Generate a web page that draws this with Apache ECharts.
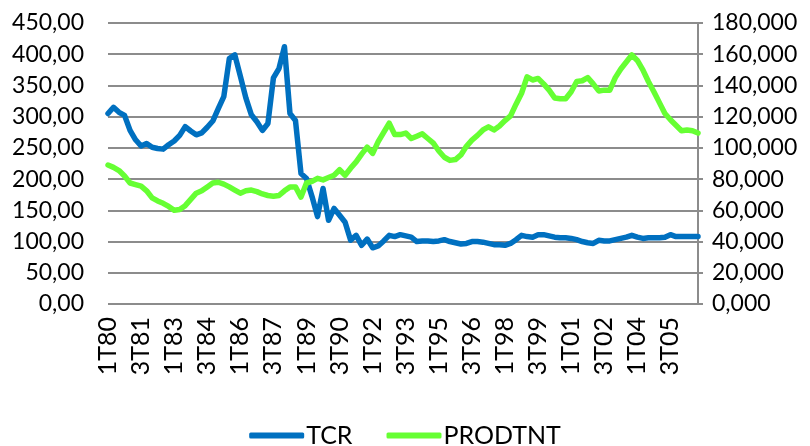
<!DOCTYPE html>
<html>
<head>
<meta charset="utf-8">
<script src="https://cdn.jsdelivr.net/npm/echarts@6/dist/echarts.min.js"></script>
<style>
html,body{margin:0;padding:0;background:#fff;}
#chart{width:810px;height:446px;}
</style>
</head>
<body>
<div id="chart"></div>
<script>
// Quarterly categories 1T80 .. 4T06
var years = ['80','81','82','83','84','85','86','87','88','89','90','91','92','93','94','95','96','97','98','99','00','01','02','03','04','05','06'];
var categories = [];
years.forEach(function (y) { for (var q = 1; q <= 4; q++) categories.push(q + 'T' + y); });

var seriesNames = ['TCR', 'PRODTNT'];

var tcr = [
  305, 315, 307, 302, 278, 263, 253, 257, 251, 249,
  248, 255, 261, 270, 284, 277, 271, 274, 283, 293,
  313, 332, 393, 399, 365, 330, 303, 292, 278, 289,
  362, 377, 412, 305, 294, 209, 201, 172, 140, 185,
  134, 153, 142, 131, 102, 110, 94, 104, 90, 93,
  101, 110, 108, 111, 109, 107, 100, 101, 101, 100,
  101, 103, 100, 98, 96, 97, 100, 100, 99, 97,
  95, 95, 94, 97, 103, 110, 108, 107, 111, 111,
  109, 107, 106, 106, 105, 103, 100, 98, 97, 102,
  101, 101, 103, 105, 107, 110, 107, 105, 106, 106,
  106, 107, 111, 108, 108, 108, 108, 108
];

var prodtnt = [
  89.0, 87.5, 85.5, 82.0, 77.5, 76.5, 75.5, 72.5, 68.0, 66.0,
  64.5, 62.5, 60.0, 60.5, 63.0, 67.0, 71.0, 72.5, 75.0, 77.5,
  78.0, 76.8, 75.0, 73.0, 71.0, 72.5, 73.0, 72.0, 70.5, 69.5,
  69.0, 69.5, 72.5, 75.0, 75.0, 68.5, 77.5, 78.5, 80.5, 79.5,
  81.0, 82.5, 86.0, 82.5, 87.0, 91.0, 96.0, 100.5, 96.5, 104.0,
  110.0, 115.8, 108.5, 108.5, 109.5, 106.0, 107.5, 109.0, 106.0, 103.0,
  98.0, 94.0, 92.0, 92.5, 95.5, 101.0, 105.0, 108.0, 111.5, 113.5,
  111.5, 114.0, 117.5, 120.5, 128.0, 135.0, 145.5, 143.5, 144.5, 141.0,
  137.0, 132.0, 131.5, 131.5, 136.0, 142.5, 143.0, 145.0, 141.0, 136.5,
  137.0, 137.0, 145.0, 150.5, 155.0, 159.5, 156.0, 150.0, 142.5, 136.0,
  129.0, 122.0, 118.0, 114.5, 111.0, 111.5, 111.0, 109.5
];

var FONT = 'Lato';
var chart = echarts.init(document.getElementById('chart'), null, {renderer: 'canvas'});
chart.setOption({
  animation: false,
  backgroundColor: '#ffffff',
  textStyle: {fontFamily: FONT, color: '#000'},
  grid: {left: 108, right: 112, top: 23, bottom: 142, containLabel: false},
  legend: {
    data: seriesNames,
    left: 'center',
    top: 418,
    itemWidth: 55,
    itemHeight: 6,
    itemGap: 34,
    icon: 'roundRect',
    textStyle: {fontFamily: FONT, fontSize: 25, color: '#000', padding: [0, 0, 0, -3]}
  },
  xAxis: {
    type: 'category',
    data: categories,
    boundaryGap: false,
    axisLine: {show: false},
    axisTick: {show: false},
    axisLabel: {
      interval: 5,
      rotate: 90,
      margin: 13,
      fontSize: 25,
      fontFamily: FONT,
      color: '#000'
    },
    splitLine: {show: false}
  },
  yAxis: [
    {
      type: 'value',
      min: 0, max: 450, interval: 50,
      position: 'left',
      axisLine: {show: false},
      axisTick: {show: false},
      axisLabel: {
        margin: 24,
        fontSize: 23,
        fontFamily: FONT,
        color: '#000',
        formatter: function (v) { return v.toFixed(2).replace('.', ','); }
      },
      splitLine: {show: true, lineStyle: {color: '#8c8c8c', width: 2}}
    },
    {
      type: 'value',
      min: 0, max: 180, interval: 20,
      position: 'right',
      axisLine: {show: true, lineStyle: {color: '#8c8c8c', width: 2}},
      axisTick: {show: true, length: 5, lineStyle: {color: '#8c8c8c', width: 2}},
      axisLabel: {
        margin: 14,
        fontSize: 23,
        fontFamily: FONT,
        color: '#000',
        formatter: function (v) { return v.toFixed(3).replace('.', ','); }
      },
      splitLine: {show: false}
    }
  ],
  series: [
    {
      name: seriesNames[0],
      type: 'line',
      yAxisIndex: 0,
      data: tcr,
      symbol: 'none',
      itemStyle: {color: '#0070C0'},
      lineStyle: {color: '#0070C0', width: 5.5, join: 'round', cap: 'round'}
    },
    {
      name: seriesNames[1],
      type: 'line',
      yAxisIndex: 1,
      data: prodtnt,
      symbol: 'none',
      itemStyle: {color: '#66FF33'},
      lineStyle: {color: '#66FF33', width: 5.5, join: 'round', cap: 'round'}
    }
  ]
});
</script>
</body>
</html>
